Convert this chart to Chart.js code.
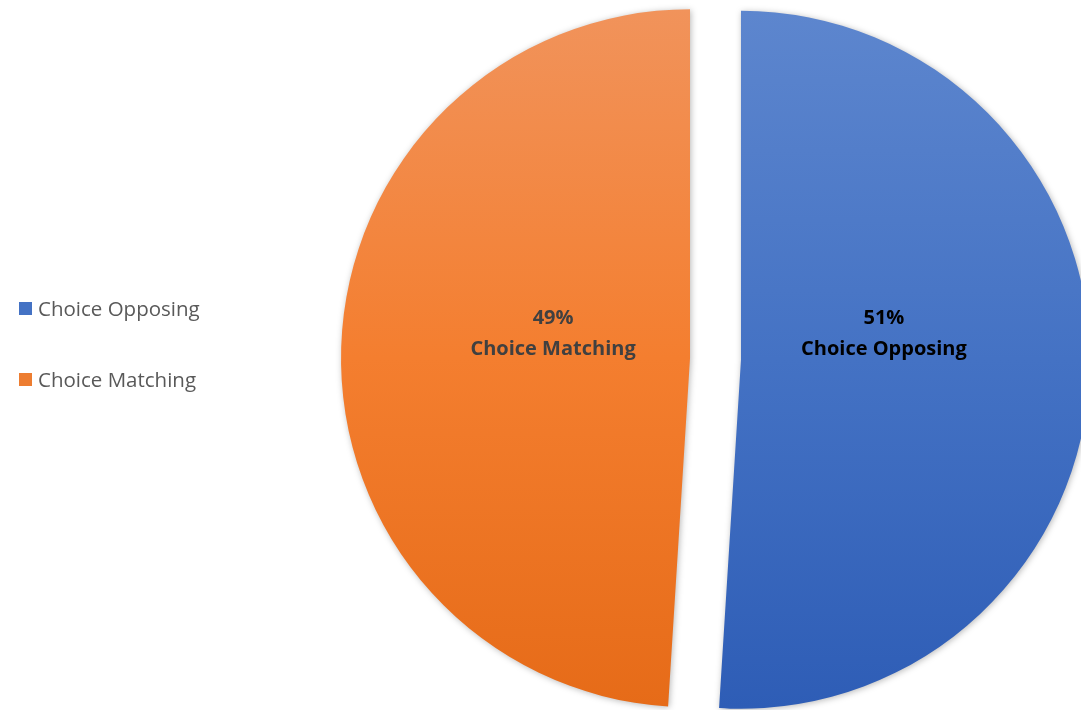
<!DOCTYPE html>
<html>
<head>
<meta charset="utf-8">
<script src="https://cdn.jsdelivr.net/npm/chart.js@4.4.1/dist/chart.umd.min.js"></script>
<style>
  html, body { margin: 0; padding: 0; background: #fff; overflow: hidden; }
  #wrap { position: relative; width: 1081px; height: 710px; }
  #wrap canvas { position: absolute; left: 0; top: 0; }
  #legend { position: absolute; left: 19px; top: 294px; font-family: 'Open Sans', sans-serif; font-size: 20.5px; color: #595959; }
  #legend .item { display: flex; align-items: center; height: 28px; margin-bottom: 43px; }
  #legend .box { width: 13px; height: 13px; margin-right: 6px; }
</style>
</head>
<body>
<div id="wrap">
  <canvas id="pie" width="1081" height="710"></canvas>
  <div id="legend"></div>
</div>
<script>
// categories and their shares (percent)
const categories = ['Choice Opposing', 'Choice Matching'];
const shares = [51, 49];
const legendSwatch = ['#4472c4', '#ed7d31'];

const PIE_RADIUS = 349;
// distance each slice is pulled out along its bisector
const EXPLODE = 25.5;

// vertical gradients, lighter at the top
const gradStops = [
  ['#5d86ce', '#4472c4', '#2e5db6'],
  ['#f1935b', '#f47e2f', '#e66b18']
];
const labelColors = ['#000000', '#404040'];

function sliceFill(c) {
  const { chart, dataIndex } = c;
  const area = chart.chartArea;
  if (!area) return legendSwatch[dataIndex];
  const cy = (area.top + area.bottom) / 2;
  const g = chart.ctx.createLinearGradient(0, cy - PIE_RADIUS, 0, cy + PIE_RADIUS);
  const s = gradStops[dataIndex];
  g.addColorStop(0, s[0]);
  g.addColorStop(0.5, s[1]);
  g.addColorStop(1, s[2]);
  return g;
}

// pulls every slice out as a whole (straight edges stay parallel),
// unlike the built-in `offset` which also narrows the arc
const explodeSlices = {
  id: 'explodeSlices',
  afterDatasetUpdate(chart, args) {
    args.meta.data.forEach(arc => {
      if (arc._exploded) return;
      const draw = arc.draw;
      arc.draw = function (ctx) {
        const mid = (this.startAngle + this.endAngle) / 2;
        ctx.save();
        ctx.translate(Math.cos(mid) * EXPLODE, Math.sin(mid) * EXPLODE);
        draw.call(this, ctx);
        ctx.restore();
      };
      arc._exploded = true;
    });
  }
};

// soft drop shadow behind the slices
const sliceShadow = {
  id: 'sliceShadow',
  beforeDatasetsDraw(chart) {
    const ctx = chart.ctx;
    ctx.save();
    ctx.shadowColor = 'rgba(0,0,0,0.28)';
    ctx.shadowBlur = 6;
    ctx.shadowOffsetX = 1;
    ctx.shadowOffsetY = 1;
  },
  afterDatasetsDraw(chart) {
    chart.ctx.restore();
  }
};

// percentage + category name inside each slice
const sliceLabels = {
  id: 'sliceLabels',
  afterDatasetsDraw(chart) {
    const ctx = chart.ctx;
    const meta = chart.getDatasetMeta(0);
    const total = shares.reduce((a, b) => a + b, 0);
    ctx.save();
    ctx.shadowColor = 'transparent';
    ctx.textAlign = 'center';
    ctx.textBaseline = 'middle';
    ctx.font = "bold 20px 'Open Sans', sans-serif";
    meta.data.forEach((arc, i) => {
      const mid = (arc.startAngle + arc.endAngle) / 2;
      const d = EXPLODE + 140;
      const x = arc.x + Math.cos(mid) * d + 3;
      const y = arc.y - 26;
      ctx.fillStyle = labelColors[i];
      ctx.fillText(Math.round(shares[i] / total * 100) + '%', x, y - 15);
      ctx.fillText(categories[i], x, y + 16);
    });
    ctx.restore();
  }
};

new Chart(document.getElementById('pie'), {
  type: 'pie',
  data: {
    labels: categories,
    datasets: [{
      data: shares,
      backgroundColor: sliceFill,
      borderWidth: 0,
      clip: false
    }]
  },
  options: {
    responsive: false,
    animation: false,
    radius: PIE_RADIUS,
    layout: { padding: { left: 350, right: 0, top: 8, bottom: 0 } },
    plugins: {
      legend: { display: false },
      tooltip: { enabled: false }
    }
  },
  plugins: [explodeSlices, sliceShadow, sliceLabels]
});

// legend on the left
const legend = document.getElementById('legend');
categories.forEach((name, i) => {
  const item = document.createElement('div');
  item.className = 'item';
  item.innerHTML = '<span class="box" style="background:' + legendSwatch[i] + '"></span><span>' + name + '</span>';
  legend.appendChild(item);
});
</script>
</body>
</html>
